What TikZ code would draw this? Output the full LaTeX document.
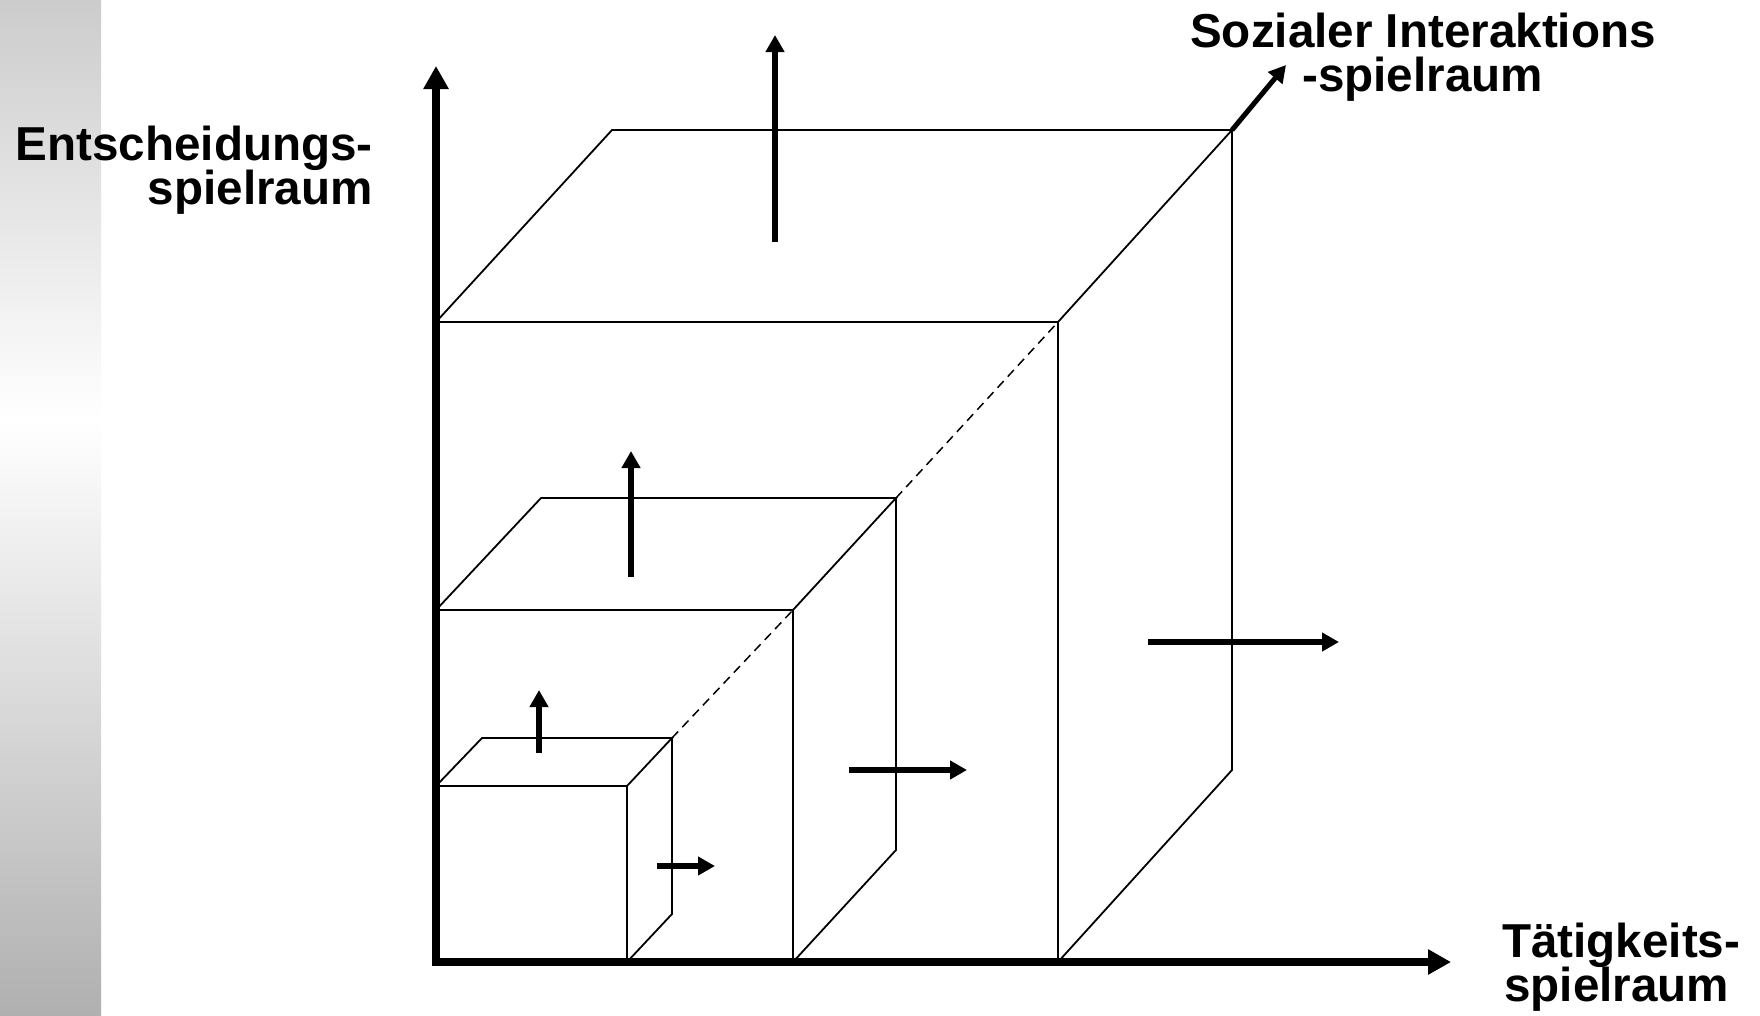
\documentclass[tikz,border=0pt]{standalone}
\usepackage{fontspec}
\setmainfont{Liberation Sans}
\usetikzlibrary{arrows.meta}
\begin{document}
\begin{tikzpicture}[x=1pt,y=-1pt,
  boxedge/.style={line width=1.8pt, line join=miter},
  hiddenedge/.style={line width=1.5pt, dash pattern=on 9pt off 6pt},
  axisline/.style={line width=8pt, line join=miter,
    {Triangle[length=23pt,width=24pt]}-{Triangle[length=23pt,width=24pt]}},
  growarrow/.style={line width=6pt, -{Triangle[length=17pt,width=18pt]}},
  lab/.style={font=\bfseries\fontsize{47.6}{44.5}\selectfont, inner sep=0pt}]
\useasboundingbox (0,0) rectangle (1760,1015);
\fill[white] (0,0) rectangle (1760,1015);
% side bar
\shade[top color=black!20, bottom color=white] (0,0) rectangle (101,420);
\shade[top color=white, bottom color=black!31] (0,420) rectangle (101,1015);

% corners
\coordinate (O) at (436,962);
\coordinate (Ytip) at (436,66);
\coordinate (Xtip) at (1451,962);
\coordinate (Ztip) at (1286,65);
% large box
\coordinate (LFTL) at (436,322);
\coordinate (LFTR) at (1058,322);
\coordinate (LFBR) at (1058,962);
\coordinate (LBTL) at (612,130);
\coordinate (LBTR) at (1232,130);
\coordinate (LBBR) at (1232,770);
% medium box
\coordinate (MFTL) at (436,610);
\coordinate (MFTR) at (793,610);
\coordinate (MFBR) at (793,962);
\coordinate (MBTL) at (541,498);
\coordinate (MBTR) at (896,498);
\coordinate (MBBR) at (896,850);
% small box
\coordinate (SFTL) at (436,786);
\coordinate (SFTR) at (627,786);
\coordinate (SFBR) at (627,962);
\coordinate (SBTL) at (482,738);
\coordinate (SBTR) at (672,738);
\coordinate (SBBR) at (672,914);

% large box edges
\draw[boxedge] (LFTL) -- (LFTR) -- (LFBR);
\draw[boxedge] (LFTL) -- (LBTL) -- (LBTR) -- (LFTR);
\draw[boxedge] (LBTR) -- (LBBR) -- (LFBR);
% medium box edges
\draw[boxedge] (MFTL) -- (MFTR) -- (MFBR);
\draw[boxedge] (MFTL) -- (MBTL) -- (MBTR) -- (MFTR);
\draw[boxedge] (MBTR) -- (MBBR) -- (MFBR);
% small box edges
\draw[boxedge] (SFTL) -- (SFTR) -- (SFBR);
\draw[boxedge] (SFTL) -- (SBTL) -- (SBTR) -- (SFTR);
\draw[boxedge] (SBTR) -- (SBBR) -- (SFBR);
% dashed diagonal
\draw[hiddenedge] (SBTR) -- (MFTR);
\draw[hiddenedge] (MBTR) -- (LFTR);

% axes
\draw[axisline] (Ytip) -- (O) -- (Xtip);
\draw[growarrow, line width=5pt] (LBTR) -- (Ztip);

% growth arrows
\coordinate (LUs) at (775,242); \coordinate (LUt) at (775,35);
\coordinate (MUs) at (631,577); \coordinate (MUt) at (631,451);
\coordinate (SUs) at (539,753); \coordinate (SUt) at (539,690);
\coordinate (LRs) at (1148,642); \coordinate (LRt) at (1339,642);
\coordinate (MRs) at (849,770); \coordinate (MRt) at (967,770);
\coordinate (SRs) at (657,866); \coordinate (SRt) at (715,866);
\draw[growarrow] (LUs) -- (LUt);
\draw[growarrow] (MUs) -- (MUt);
\draw[growarrow] (SUs) -- (SUt);
\draw[growarrow] (LRs) -- (LRt);
\draw[growarrow] (MRs) -- (MRt);
\draw[growarrow] (SRs) -- (SRt);

% labels
\node[lab, anchor=base east] (ent1) at (373,160) {Entscheidungs-};
\node[lab, anchor=base east] (ent2) at (373,204.5) {spielraum};
\node[lab, anchor=base] (soz1) at (1423,47) {Sozialer Interaktions};
\node[lab, anchor=base] (soz2) at (1422.5,91) {-spielraum};
\node[lab, anchor=base west] (tae1) at (1502,957.5) {Tätigkeits-};
\node[lab, anchor=base west] (tae2) at (1504,1001.5) {spielraum};
\end{tikzpicture}
\end{document}
